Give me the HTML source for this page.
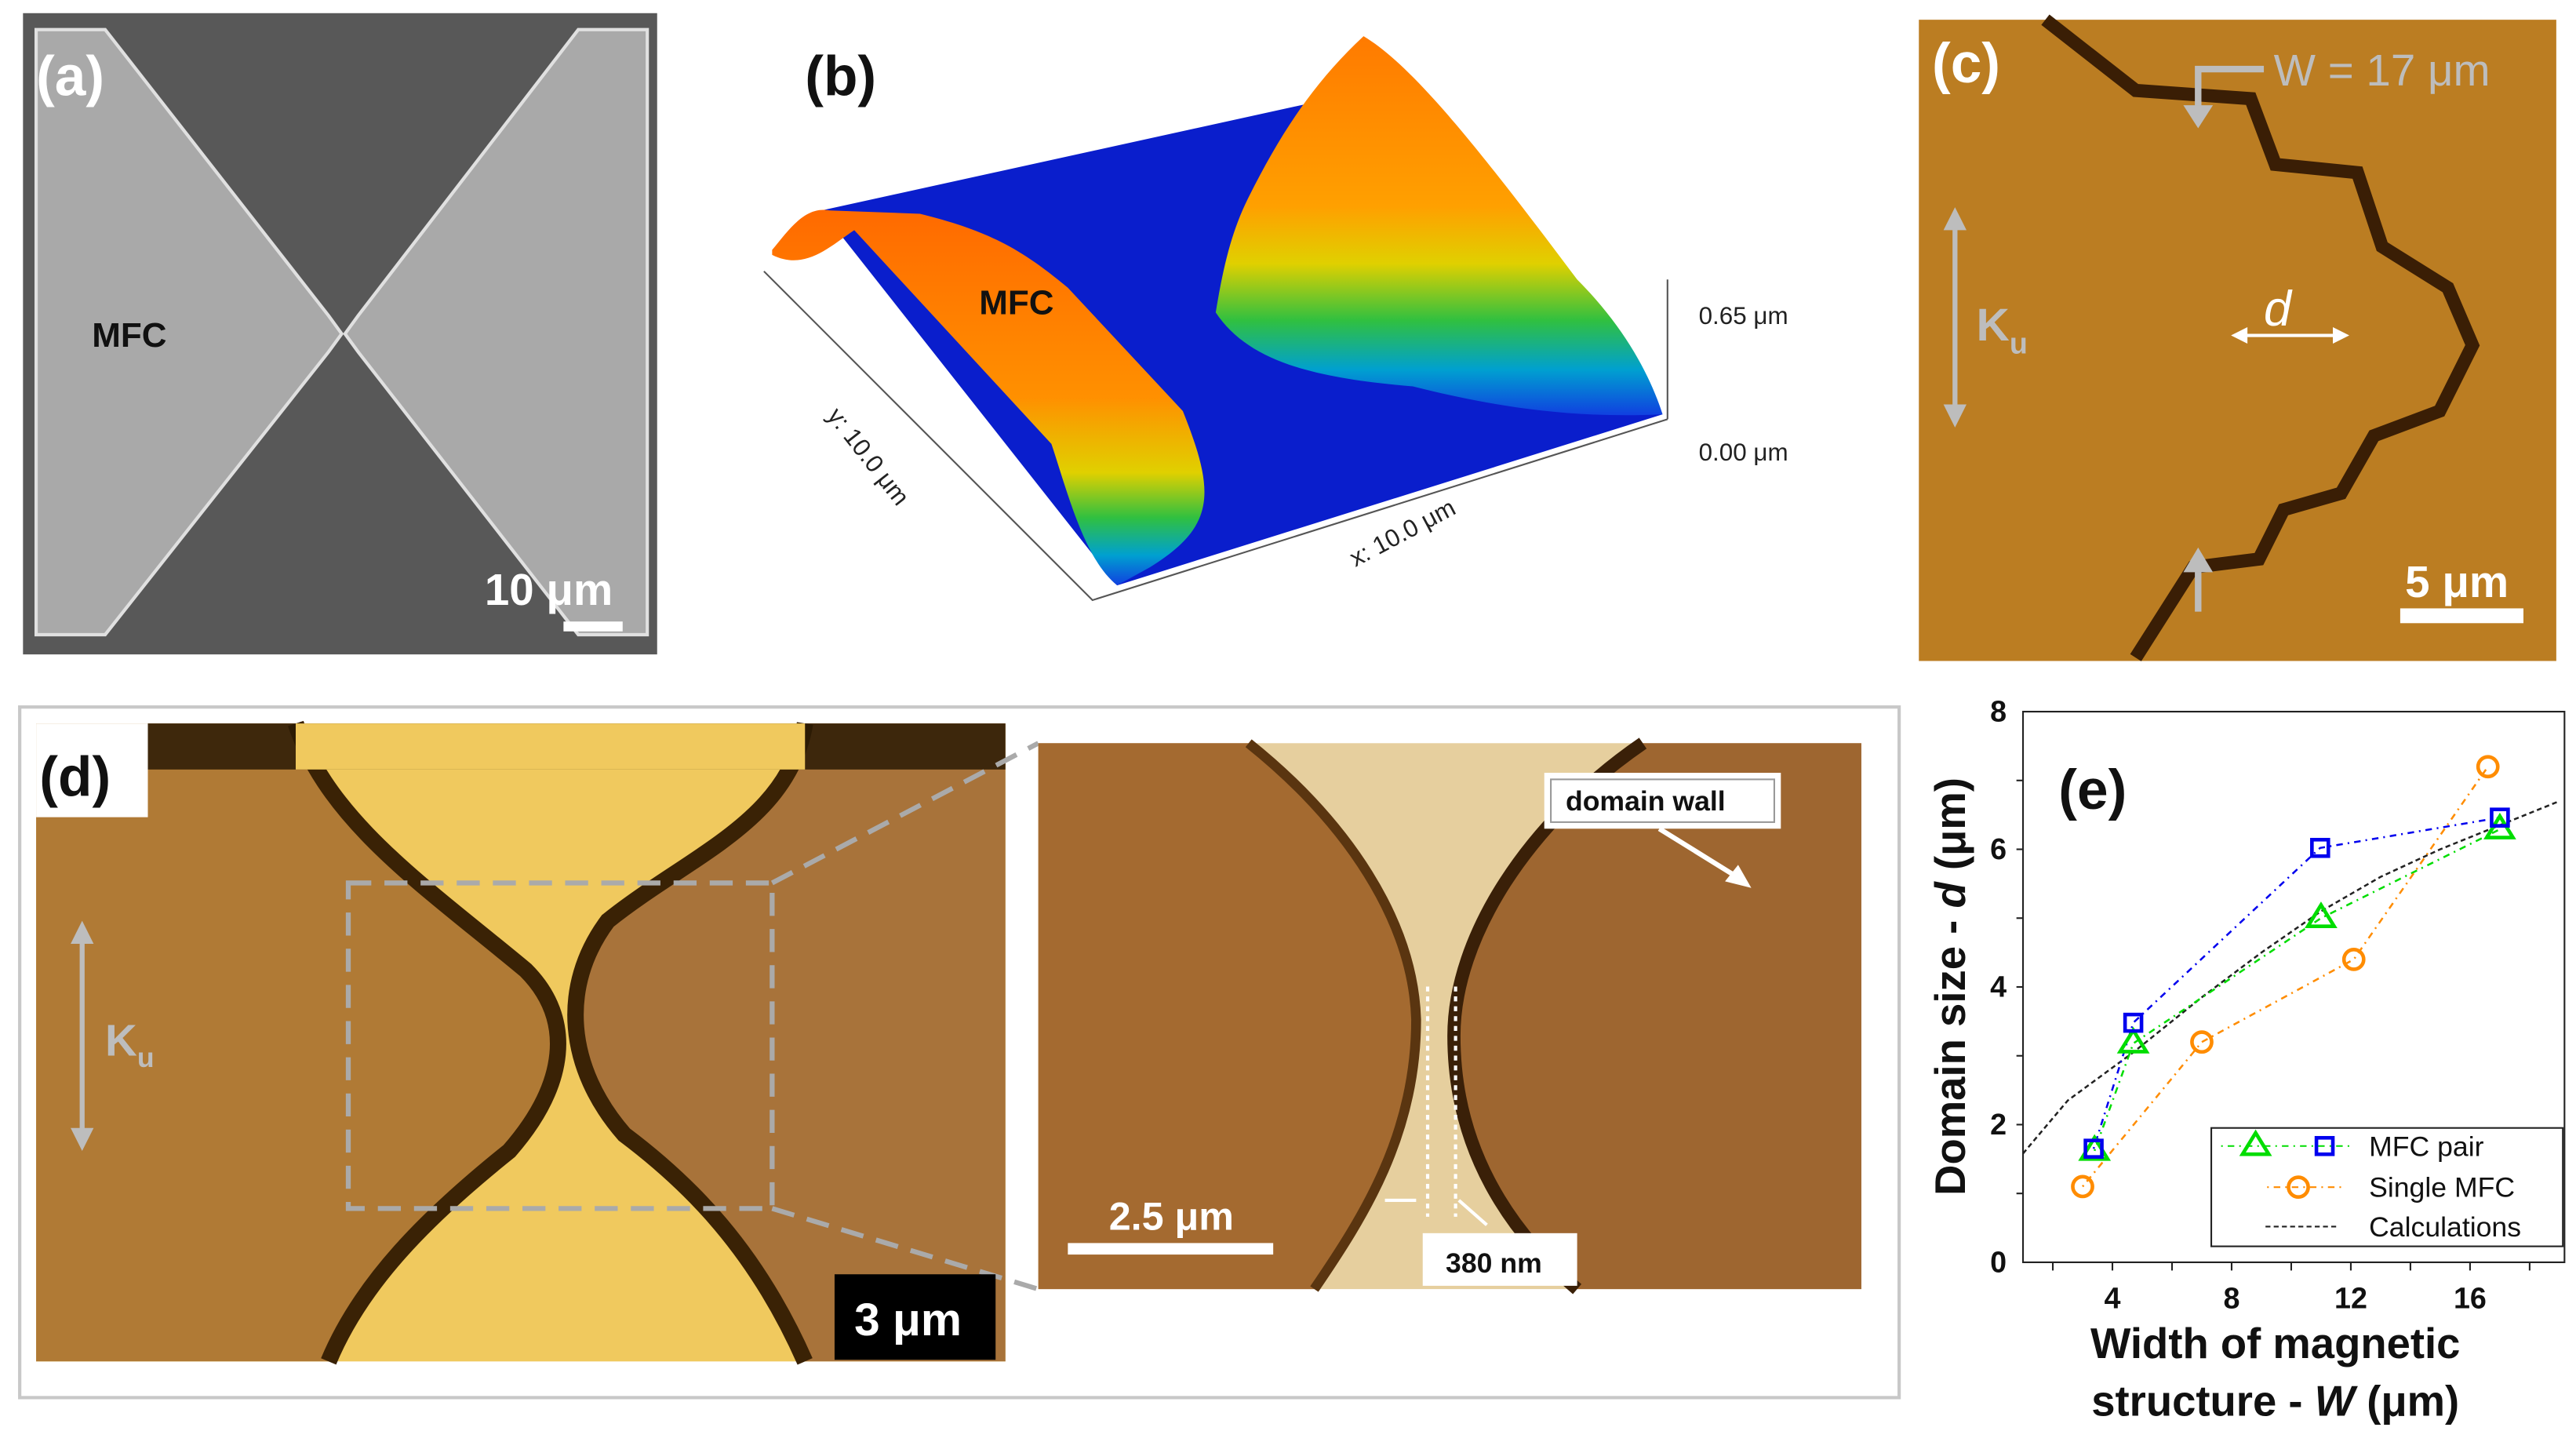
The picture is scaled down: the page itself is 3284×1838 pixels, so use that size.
<!DOCTYPE html>
<html><head><meta charset="utf-8"><style>
html,body{margin:0;padding:0;background:#fff}
svg{display:block}
text{font-family:"Liberation Sans",Arial,sans-serif}
</style></head><body>
<svg id="fig" width="3284" height="1838" viewBox="0 0 1568 877" preserveAspectRatio="none" xmlns="http://www.w3.org/2000/svg">
<defs>
<linearGradient id="rg" x1="0" y1="0" x2="0" y2="1">
<stop offset="0" stop-color="#ff7a00"/><stop offset="0.45" stop-color="#ffa000"/><stop offset="0.6" stop-color="#e0d000"/><stop offset="0.75" stop-color="#30c040"/><stop offset="0.88" stop-color="#00a0d0"/><stop offset="1" stop-color="#1040e0"/></linearGradient>
<linearGradient id="lg" x1="0" y1="0" x2="0" y2="1">
<stop offset="0" stop-color="#ff6a00"/><stop offset="0.5" stop-color="#ff9000"/><stop offset="0.7" stop-color="#e0d000"/><stop offset="0.82" stop-color="#30c040"/><stop offset="0.92" stop-color="#00a0d0"/><stop offset="1" stop-color="#1040e0"/></linearGradient>
</defs>

<!-- Panel a -->
<g>
<rect x="14" y="8" width="386" height="390" fill="#585858"/>
<polygon points="22,18 64,18 200,192 208,203 200,214 64,386 22,386" fill="#a9a9a9" stroke="#e0e0e0" stroke-width="2"/>
<polygon points="394,18 352,18 218,192 210,203 218,214 352,386 394,386" fill="#a9a9a9" stroke="#e0e0e0" stroke-width="2"/>
<text x="22" y="58" font-size="34" font-weight="bold" fill="#fff">(a)</text>
<text x="56" y="211" font-size="21" font-weight="bold" fill="#111">MFC</text>
<text x="295" y="368" font-size="27" font-weight="bold" fill="#fff">10 μm</text>
<rect x="343" y="378" width="36" height="6" fill="#fff"/>
</g>

<!-- Panel b -->
<g>
<polygon points="500,128 810,60 1012,252 680,356" fill="#0a1ecc"/>
<path d="M470,152 C480,140 490,125 505,128 L560,130 C600,140 620,150 650,175 L720,250 C740,300 740,320 700,345 L680,356 C660,340 650,300 640,270 L520,140 C505,150 490,165 470,155 Z" fill="url(#lg)"/>
<path d="M760,120 C780,80 800,50 830,22 C860,40 900,90 960,170 C990,200 1005,230 1012,252 C950,255 900,245 860,235 C800,230 760,220 740,190 C745,160 750,140 760,120 Z" fill="url(#rg)"/>
<path d="M465,165 L665,365 L1015,255 M1015,255 L1015,170" stroke="#555" stroke-width="1" fill="none"/>
<text x="490" y="58" font-size="34" font-weight="bold" fill="#111">(b)</text>
<text x="596" y="191" font-size="21" font-weight="bold" fill="#111">MFC</text>
<text x="1034" y="197" font-size="15" fill="#222">0.65 μm</text>
<text x="1034" y="280" font-size="15" fill="#222">0.00 μm</text>
<text x="0" y="0" font-size="15" fill="#222" transform="translate(825,345) rotate(-28)">x: 10.0 μm</text>
<text x="0" y="0" font-size="15" fill="#222" transform="translate(503,253) rotate(52)">y: 10.0 μm</text>
</g>

<!-- Panel c -->
<g>
<rect x="1168" y="12" width="388" height="390" fill="#bb7d22"/>
<path d="M1245,12 L1300,55 L1370,60 L1385,100 L1435,105 L1450,150 L1490,175 L1505,210 L1485,250 L1445,265 L1425,300 L1390,310 L1375,340 L1335,345 L1300,400" stroke="#3a1e05" stroke-width="8" fill="none"/>
<text x="1176" y="50" font-size="34" font-weight="bold" fill="#fff">(c)</text>
<text x="1384" y="52" font-size="27" fill="#bdbdbd">W = 17 μm</text>
<path d="M1378,42 L1338,42 L1338,72" stroke="#bdbdbd" stroke-width="4" fill="none"/>
<polygon points="1329,64 1347,64 1338,78" fill="#bdbdbd"/>
<path d="M1338,372 L1338,340" stroke="#bdbdbd" stroke-width="4"/>
<polygon points="1329,348 1347,348 1338,333" fill="#bdbdbd"/>
<path d="M1190,138 L1190,250" stroke="#bdbdbd" stroke-width="3"/>
<polygon points="1183,140 1197,140 1190,126" fill="#bdbdbd"/>
<polygon points="1183,246 1197,246 1190,260" fill="#bdbdbd"/>
<text x="1203" y="207" font-size="28" font-weight="bold" fill="#bdbdbd">K<tspan font-size="18" dy="8">u</tspan></text>
<text x="1378" y="198" font-size="30" font-style="italic" fill="#fff">d</text>
<path d="M1364,204 L1424,204" stroke="#fff" stroke-width="2"/>
<polygon points="1358,204 1368,199 1368,209" fill="#fff"/>
<polygon points="1430,204 1420,199 1420,209" fill="#fff"/>
<text x="1464" y="363" font-size="27" font-weight="bold" fill="#fff">5 μm</text>
<rect x="1461" y="370" width="75" height="9" fill="#fff"/>
</g>

<!-- Panel d -->
<g>
<rect x="12" y="430" width="1144" height="420" fill="#fff" stroke="#c8c8c8" stroke-width="2"/>
<rect x="22" y="440" width="590" height="388" fill="#f0c95e"/>
<path d="M22,440 L180,440 C200,500 260,540 320,590 C350,620 345,660 310,700 C260,740 220,780 200,828 L22,828 Z" fill="#b07a35"/>
<path d="M612,440 L490,440 C480,500 420,520 370,560 C340,600 345,650 380,690 C420,720 460,760 490,828 L612,828 Z" fill="#a8733a"/>
<path d="M180,440 C200,500 260,540 320,590 C350,620 345,660 310,700 C260,740 220,780 200,828" stroke="#3a2205" stroke-width="10" fill="none"/>
<path d="M490,440 C480,500 420,520 370,560 C340,600 345,650 380,690 C420,720 460,760 490,828" stroke="#3a2205" stroke-width="10" fill="none"/>
<rect x="90" y="440" width="522" height="28" fill="#2a1a05" opacity="0.85"/>
<rect x="180" y="440" width="310" height="28" fill="#f0c95e"/>
<rect x="22" y="440" width="68" height="57" fill="#fff"/>
<text x="24" y="484" font-size="34" font-weight="bold" fill="#111">(d)</text>
<path d="M50,570 L50,690" stroke="#bdbdbd" stroke-width="3"/>
<polygon points="43,574 57,574 50,560" fill="#bdbdbd"/>
<polygon points="43,686 57,686 50,700" fill="#bdbdbd"/>
<text x="64" y="642" font-size="27" font-weight="bold" fill="#bdbdbd">K<tspan font-size="17" dy="7">u</tspan></text>
<rect x="212" y="537" width="258" height="198" fill="none" stroke="#aaa" stroke-width="3" stroke-dasharray="14,8"/>
<path d="M470,537 L632,452 M470,735 L632,784" stroke="#aaa" stroke-width="3" stroke-dasharray="14,8"/>
<rect x="508" y="775" width="98" height="52" fill="#000"/>
<text x="520" y="812" font-size="28" font-weight="bold" fill="#fff">3 μm</text>
<rect x="632" y="452" width="501" height="332" fill="#e6cf9e"/>
<path d="M632,452 L760,452 C820,500 860,560 862,620 C862,690 830,740 800,784 L632,784 Z" fill="#a46a30"/>
<path d="M1133,452 L1000,452 C930,500 885,570 885,630 C885,700 920,750 960,784 L1133,784 Z" fill="#9e6630"/>
<path d="M760,452 C820,500 860,560 862,620 C862,690 830,740 800,784" stroke="#5a3510" stroke-width="6" fill="none"/>
<path d="M1000,452 C930,500 885,570 885,630 C885,700 920,750 960,784" stroke="#3a2008" stroke-width="8" fill="none"/>
<path d="M869,600 L869,740 M886,600 L886,740" stroke="#fff" stroke-width="2" stroke-dasharray="3,3"/>
<rect x="940" y="470" width="144" height="34" fill="#fff"/>
<rect x="944" y="474" width="136" height="26" fill="none" stroke="#999" stroke-width="1"/>
<text x="953" y="493" font-size="17" font-weight="bold" fill="#111">domain wall</text>
<path d="M1010,504 L1060,535" stroke="#fff" stroke-width="3"/>
<polygon points="1066,540 1050,536 1058,526" fill="#fff"/>
<text x="675" y="748" font-size="24" font-weight="bold" fill="#fff">2.5 μm</text>
<rect x="650" y="756" width="125" height="7" fill="#fff"/>
<path d="M843,730 L862,730 M888,730 L905,745" stroke="#fff" stroke-width="2"/>
<rect x="866" y="750" width="94" height="32" fill="#fff"/>
<text x="880" y="774" font-size="17" font-weight="bold" fill="#111">380 nm</text>
</g>

<!-- Panel e chart -->
<g id="chart"></g>
</svg>
<script>
const xTicks=[4,8,12,16];
const yTicks=[0,2,4,6,8];
const triW=[3.4,4.7,11.0,17.0];
const triD=[1.62,3.18,5.0,6.29];
const sqW=[3.37,4.7,10.97,17.0];
const sqD=[1.65,3.48,6.02,6.46];
const circW=[3.0,7.0,12.1,16.6];
const circD=[1.1,3.2,4.4,7.2];
const calcW=[1.0,2.5,4.7,7,9,11,13,15,17,19];
const calcD=[1.58,2.35,3.05,3.85,4.5,5.1,5.6,6.0,6.35,6.7];
const NS='http://www.w3.org/2000/svg';
const X0=1231.4,XR=1561,YB=767.7,YT=432.8;
const xMin=1,xMax=(XR-X0)/18.14+1,yMin=0,yMax=8;
function sx(v){return X0+(v-xMin)/(xMax-xMin)*(XR-X0);}
function sy(v){return YB-(v-yMin)/(yMax-yMin)*(YB-YT);}
const g=document.getElementById('chart');
function mk(tag,attrs,parent){const e=document.createElementNS(NS,tag);for(const k in attrs)e.setAttribute(k,attrs[k]);(parent||g).appendChild(e);return e;}
let t=mk('text',{x:1253,y:492,'font-size':34,'font-weight':'bold',fill:'#111'});t.textContent='(e)';


let ax=mk('path',{d:`M${X0},${YT} L${X0},${YB} L${XR},${YB} L${XR},${YT} Z`,stroke:'#222','stroke-width':1,fill:'none'});


for(let v=2;v<xMax;v+=2){mk('line',{x1:sx(v),x2:sx(v),y1:YB,y2:YB+5,stroke:'#222'});}
for(let v=1;v<8;v++){mk('line',{x1:X0-4,x2:X0,y1:sy(v),y2:sy(v),stroke:'#222'});}
xTicks.forEach(v=>{const e=mk('text',{x:sx(v),y:YB+28,'font-size':18,'font-weight':'bold','text-anchor':'middle',fill:'#111'});e.textContent=v;

});
yTicks.forEach(v=>{const e=mk('text',{x:X0-10,y:sy(v)+6,'font-size':18,'font-weight':'bold','text-anchor':'end',fill:'#111'});e.textContent=v;

});
let yl=mk('text',{x:0,y:0,'font-size':26,'font-weight':'bold','text-anchor':'middle',fill:'#111',transform:'translate(1196,600) rotate(-90)'});
yl.innerHTML='Domain size - <tspan font-style="italic">d</tspan> (μm)';


let xl1=mk('text',{x:1385,y:826,'font-size':26,'font-weight':'bold','text-anchor':'middle',fill:'#111'});xl1.textContent='Width of magnetic';


let xl2=mk('text',{x:1385,y:861,'font-size':26,'font-weight':'bold','text-anchor':'middle',fill:'#111'});xl2.innerHTML='structure - <tspan font-style="italic">W</tspan> (μm)';


function line(W,D,color,dash,name){const p=mk('polyline',{points:W.map((w,i)=>sx(w)+','+sy(D[i])).join(' '),fill:'none',stroke:color,'stroke-width':1.2,'stroke-dasharray':dash});

}
line(calcW,calcD,'#222','3,2','calculations-line');
line(triW,triD,'#00dd00','1,3,4,3','mfc-pair-triangle-line');
line(sqW,sqD,'#0000ee','1,3,4,3','mfc-pair-square-line');
line(circW,circD,'#ff8c00','1,3,4,3','single-mfc-line');
function tri(x,y){return mk('polygon',{points:`${x},${y-8} ${x-8},${y+5} ${x+8},${y+5}`,fill:'none',stroke:'#00dd00','stroke-width':2.2});}
function sq(x,y){return mk('rect',{x:x-5,y:y-5,width:10,height:10,fill:'none',stroke:'#0000ee','stroke-width':2.2});}
function circ(x,y){return mk('circle',{cx:x,cy:y,r:6,fill:'none',stroke:'#ff8c00','stroke-width':2.2});}
triW.forEach((w,i)=>{const e=tri(sx(w),sy(triD[i]));

});
sqW.forEach((w,i)=>{const e=sq(sx(w),sy(sqD[i]));

});
circW.forEach((w,i)=>{const e=circ(sx(w),sy(circD[i]));

});
const lg=mk('g',{});


mk('rect',{x:1346,y:686,width:214,height:72,fill:'#fff',stroke:'#222','stroke-width':1},lg);
mk('line',{x1:1352,x2:1430,y1:697,y2:697,stroke:'#00dd00','stroke-dasharray':'1,3,4,3'},lg);
lg.appendChild(tri(1373,697));lg.appendChild(sq(1415,697));
mk('line',{x1:1380,x2:1425,y1:722,y2:722,stroke:'#ff8c00','stroke-dasharray':'1,3,4,3'},lg);
lg.appendChild(circ(1399,722));
mk('line',{x1:1379,x2:1423,y1:746,y2:746,stroke:'#222','stroke-dasharray':'3,2'},lg);
[['MFC pair',703],['Single MFC',728],['Calculations',752]].forEach(([s,y])=>{const e=mk('text',{x:1442,y:y,'font-size':17,fill:'#111'},lg);e.textContent=s;

});
</script>
</body></html>
